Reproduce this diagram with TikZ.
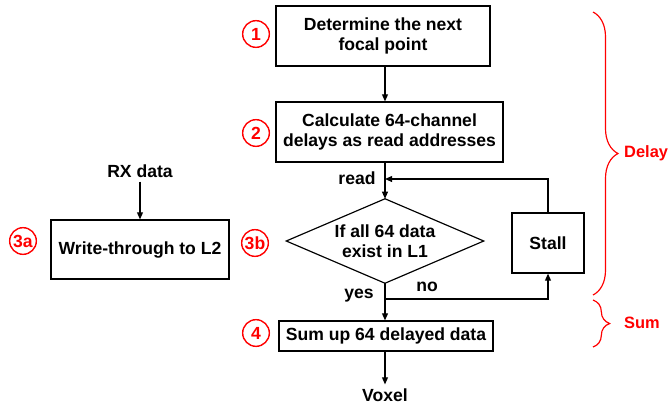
\documentclass[tikz,border=0pt]{standalone}
\usepackage{fontspec}
\setmainfont{Liberation Sans}
\usetikzlibrary{arrows.meta, decorations.pathreplacing}

\begin{document}
\begin{tikzpicture}[x=0.03cm, y=-0.03cm, font=\fontsize{15}{17}\selectfont\bfseries,
    stepbox/.style={draw, line width=1pt, align=center, inner sep=2pt},
    stepnum/.style={circle, draw=red, line width=1.2pt, text=red, minimum size=0.8cm, inner sep=0pt},
    flow/.style={line width=1pt, -{Triangle[length=6pt, width=5pt]}},
    redbrace/.style={red, line width=1pt, decorate},
    bracelabel/.style={red, anchor=west, inner sep=0pt, font=\fontsize{14}{16}\selectfont\bfseries}]
    \useasboundingbox (0,0) rectangle (671,407);

    % steps
    \node[stepbox, minimum width=6.42cm, minimum height=1.8cm] (focal) at (383,36) {Determine the next\\focal point};
    \node[stepbox, minimum width=6.81cm, minimum height=1.8cm] (delays) at (389.5,132) {Calculate 64-channel\\delays as read addresses};
    \node[align=center, inner sep=0pt, minimum width=5.91cm, minimum height=2.52cm] (check) at (385,241) {If all 64 data\\exist in L1};
    \draw[line width=1pt] (check.north) -- (check.east) -- (check.south) -- (check.west) -- cycle;
    \node[stepbox, minimum width=2.16cm, minimum height=1.8cm] (stall) at (548,243) {Stall};
    \node[stepbox, minimum width=5.34cm, minimum height=1.77cm] (write) at (140,249.5) {Write-through to L2};
    \node[stepbox, minimum width=6.42cm, minimum height=0.9cm] (sum) at (386,336) {Sum up 64 delayed data};

    % numbers
    \node[stepnum] (n1) at (256,34) {1};
    \node[stepnum] (n2) at (256,133) {2};
    \node[stepnum] (n3a) at (23,241) {3a};
    \node[stepnum] (n3b) at (255,243) {3b};
    \node[stepnum] (n4) at (256,333) {4};

    % texts
    \node (rx) at (140,171) {RX data};
    \node (voxel) at (385,395) {Voxel};
    \node (read) at (357,178) {read};
    \node (yes) at (359,296) {yes};
    \node (no) at (427,287) {no};
    \coordinate (loop) at (385,179);
    \coordinate (split) at (385,299);

    % connectors
    \draw[flow] (focal.south -| check.north) -- (check.north |- delays.north);
    \draw[flow] (check.north |- delays.south) -- (check.north);
    \draw[flow] (stall.north) |- (loop);
    \draw[flow] (check.south) -- (sum.north -| check.south);
    \draw[flow] (split) -| (stall.south);
    \draw[flow] (sum.south -| check.south) -- (voxel.north);
    \draw[flow] (rx.south) -- (write.north);

    % braces
    \draw[redbrace, decoration={brace, amplitude=0.75cm}] (593,12) -- (593,295);
    \draw[redbrace, decoration={brace, amplitude=0.5cm}] (593,300) -- (593,347);
    \node[bracelabel] (delay) at (624,153) {Delay};
    \node[bracelabel] (sumlbl) at (624,323) {Sum};
\end{tikzpicture}
\end{document}
